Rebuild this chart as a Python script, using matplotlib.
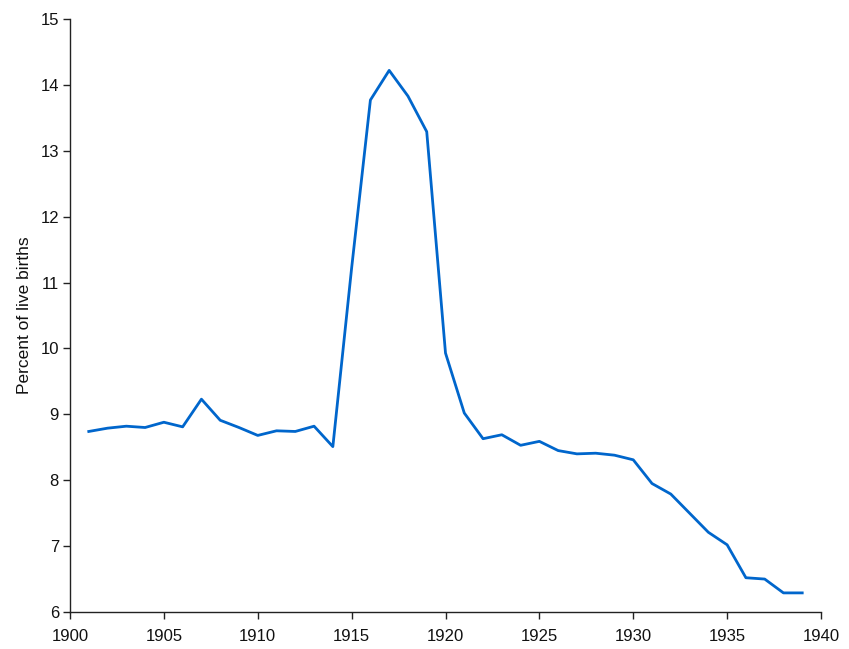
import matplotlib
matplotlib.use("Agg")
import matplotlib.pyplot as plt

years = list(range(1901, 1940))
percent = [8.74, 8.79, 8.82, 8.80, 8.88, 8.81, 9.23, 8.91, 8.80, 8.68,
           8.75, 8.74, 8.82, 8.51, 11.22, 13.77, 14.22, 13.83, 13.29, 9.93,
           9.02, 8.63, 8.69, 8.53, 8.59, 8.45, 8.40, 8.41, 8.38, 8.31,
           7.95, 7.79, 7.50, 7.21, 7.02, 6.52, 6.50, 6.29, 6.29]
x_ticks = [1900, 1905, 1910, 1915, 1920, 1925, 1930, 1935, 1940]
y_ticks = [6, 7, 8, 9, 10, 11, 12, 13, 14, 15]

plt.rcParams['font.family'] = ['Liberation Sans', 'DejaVu Sans']

fig = plt.figure(figsize=(8.49, 6.49), dpi=100)
ax = fig.add_axes([70/849, 37/649, 751/849, 593/649])
ax.plot(years, percent, color='#0066cc', linewidth=2.0)
ax.set_xlim(1900, 1940)
ax.set_ylim(6, 15)
ax.set_xticks(x_ticks)
ax.set_yticks(y_ticks)
for s in ['top', 'right']:
    ax.spines[s].set_visible(False)
for s in ['left', 'bottom']:
    ax.spines[s].set_color('#222222')
    ax.spines[s].set_linewidth(1.0)
ax.tick_params(axis='both', length=5, width=1, color='#222222', labelsize=12, labelcolor='#111111', pad=3)
ax.tick_params(axis='x', pad=7)
ax.set_ylabel('Percent of live births', fontsize=12.5, color='#111111', labelpad=6)

fig.savefig('out.png', dpi=100)
